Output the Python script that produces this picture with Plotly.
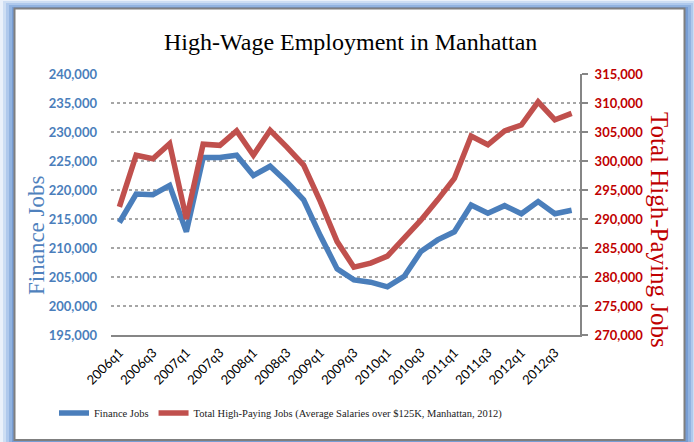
import plotly.graph_objects as go

quarters = ["2006q1", "2006q2", "2006q3", "2006q4",
            "2007q1", "2007q2", "2007q3", "2007q4",
            "2008q1", "2008q2", "2008q3", "2008q4",
            "2009q1", "2009q2", "2009q3", "2009q4",
            "2010q1", "2010q2", "2010q3", "2010q4",
            "2011q1", "2011q2", "2011q3", "2011q4",
            "2012q1", "2012q2", "2012q3", "2012q4"]

finance_jobs = [214400, 219300, 219200, 220800, 212800, 225600, 225600, 226000,
                222500, 224100, 221400, 218300, 212100, 206400, 204500, 204100,
                203300, 205100, 209400, 211400, 212800, 217400, 216000, 217300,
                215900, 218000, 215900, 216500]

total_high_paying = [292100, 301000, 300400, 303000, 290000, 302900, 302700, 305200,
                     301000, 305300, 302400, 299300, 293000, 286100, 281700, 282400,
                     283600, 286700, 289800, 293300, 297000, 304300, 302800, 305200,
                     306200, 310200, 307100, 308200]

tick_labels = quarters[::2]
left_ticks = [195000, 200000, 205000, 210000, 215000, 220000, 225000, 230000, 235000, 240000]
right_ticks = [270000, 275000, 280000, 285000, 290000, 295000, 300000, 305000, 310000, 315000]

W, H = 694, 442
L, R, T, B = 111, 580, 74, 335


def px(x):
    return (x - L) / (R - L)


def py(y):
    return (B - y) / (B - T)


BLUE = "#4a7ebb"
RED = "#c0504d"
SERIF = "Liberation Serif, Times New Roman, serif"
SANS = "Lato, Open Sans, sans-serif"

fig = go.Figure()
fig.add_trace(go.Scatter(x=quarters, y=finance_jobs, name="Finance Jobs",
                         mode="lines", line=dict(color=BLUE, width=5.5),
                         yaxis="y"))
fig.add_trace(go.Scatter(x=quarters, y=total_high_paying,
                         name="Total High-Paying Jobs (Average Salaries over $125K, Manhattan, 2012)",
                         mode="lines", line=dict(color=RED, width=5.5),
                         yaxis="y2"))

shapes = []
# glow around the frame
glow = [(0, 0, 694, 442, "rgba(150,185,230,0.20)"),
        (3, 1, 694, 442, "rgba(140,178,228,0.30)"),
        (6, 3, 693, 442, "rgba(130,170,225,0.40)"),
        (9, 5, 691, 442, "rgba(120,160,215,0.55)"),
        (12, 7, 688, 442, "rgba(110,148,205,0.70)")]
for x0, y0, x1, y1, c in glow:
    shapes.append(dict(type="rect", xref="paper", yref="paper", layer="below",
                       x0=px(x0), x1=px(x1), y0=py(y1), y1=py(y0),
                       fillcolor=c, line=dict(width=0)))
shapes.append(dict(type="rect", xref="paper", yref="paper", layer="below",
                   x0=px(14.5), x1=px(684.5), y0=py(440), y1=py(8.5),
                   fillcolor="white", line=dict(color="#7f7f7f", width=2)))

annotations = [
    dict(text="High-Wage Employment in Manhattan", xref="paper", yref="paper",
         x=px(350), y=py(42), showarrow=False, xanchor="center", yanchor="middle",
         font=dict(family=SERIF, size=24, color="#000000")),
    dict(text="Finance Jobs", xref="paper", yref="paper", x=px(36), y=py(235),
         showarrow=False, textangle=-90, xanchor="center", yanchor="middle",
         font=dict(family=SERIF, size=23, color="#4f81bd")),
    dict(text="Total High-Paying Jobs", xref="paper", yref="paper", x=px(659), y=py(230),
         showarrow=False, textangle=90, xanchor="center", yanchor="middle",
         font=dict(family=SERIF, size=25, color="#c00000")),
]

fig.update_layout(
    width=W, height=H,
    margin=dict(l=L, r=W - R, t=T, b=H - B, autoexpand=False),
    paper_bgcolor="white", plot_bgcolor="rgba(0,0,0,0)",
    showlegend=True,
    legend=dict(orientation="h", x=px(54), y=py(413), xanchor="left", yanchor="middle",
                font=dict(family=SERIF, size=10.5, color="#1a1a1a"),
                bgcolor="rgba(0,0,0,0)", tracegroupgap=0),
    xaxis=dict(type="category", range=[-0.5, len(quarters) - 0.5],
               tickmode="array", tickvals=tick_labels, ticktext=tick_labels,
               tickangle=-45, tickfont=dict(family=SANS, size=13, color="#000000"),
               showgrid=False, zeroline=False, showline=True, linecolor="#868686",
               linewidth=2, ticks="", ticklabelstandoff=3),
    yaxis=dict(range=[195000, 240000], tickmode="array", tickvals=left_ticks,
               tickformat=",d", tickfont=dict(family=SANS, size=13, color=BLUE, weight="bold"),
               showgrid=True, gridcolor="#a6a6a6", gridwidth=1.5, griddash="dot",
               zeroline=False, showline=False, ticks="", ticklabelstandoff=13),
    yaxis2=dict(range=[270000, 315000], overlaying="y", side="right", tickmode="array",
                tickvals=right_ticks, tickformat=",d",
                tickfont=dict(family=SANS, size=13, color="#c00000", weight="bold"),
                showgrid=False, zeroline=False, showline=True, linecolor="#868686",
                linewidth=2, ticks="outside", ticklen=6, tickwidth=1.5,
                tickcolor="#868686", ticklabelstandoff=4),
    shapes=shapes,
    annotations=annotations,
)

fig.write_html("out.html", config={"displayModeBar": False},
               post_script="document.body.style.margin='0';document.body.style.overflow='hidden';")
